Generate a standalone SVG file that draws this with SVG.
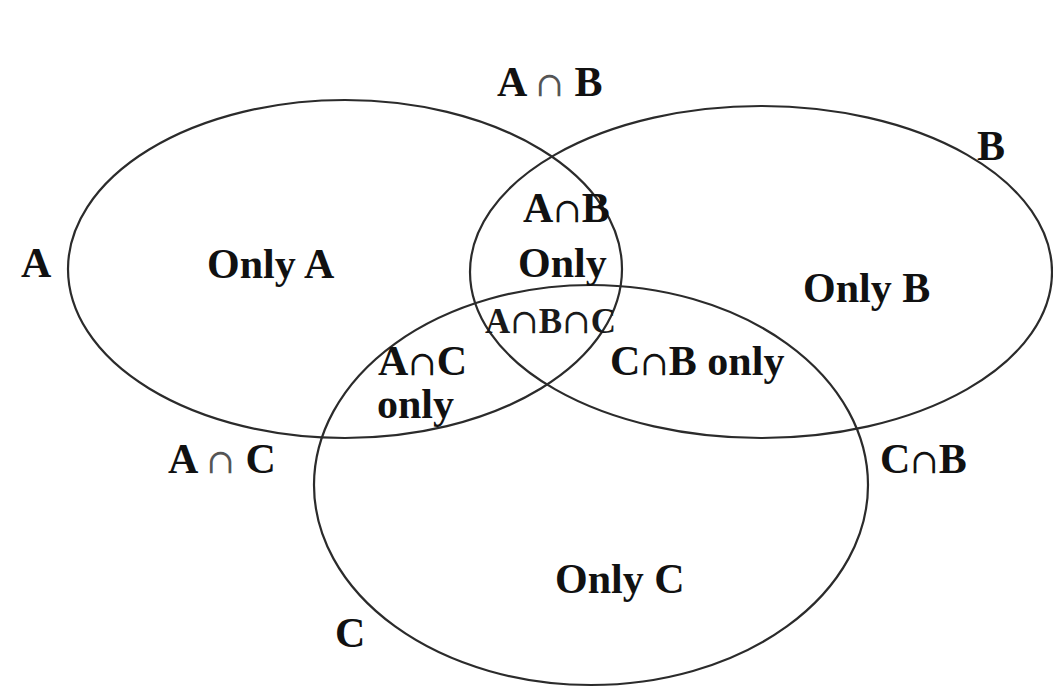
<svg xmlns="http://www.w3.org/2000/svg" width="1053" height="699" viewBox="0 0 1053 699">
<style>
.set{fill:none;stroke:#2b2b2b;stroke-width:2.2}
.t{font-family:"Liberation Serif","Times New Roman",serif;font-size:42px;font-weight:bold;fill:#111}
.i{font-family:"DejaVu Serif",serif;font-size:34px;font-weight:normal}
.cap{font-family:"DejaVu Serif",serif;font-size:34px;font-weight:normal;fill:#555}
.abc{font-family:"Liberation Serif","Times New Roman",serif;font-size:35px;font-weight:bold;fill:#1a1a1a}
</style>
<rect width="1053" height="699" fill="#fff"/>
<g id="setA"><ellipse class="set" cx="345" cy="269" rx="277" ry="169"/></g>
<g id="setB"><ellipse class="set" cx="761" cy="272" rx="291" ry="166"/></g>
<g id="setC"><ellipse class="set" cx="591" cy="485" rx="277" ry="200"/></g>
<g id="connectors"></g>
<g id="labels">
<text class="t" x="497" y="96">A <tspan class="cap">∩</tspan> B</text>
<text class="t" x="977" y="160">B</text>
<text class="t" x="21" y="277">A</text>
<text class="t" x="207" y="278">Only A</text>
<text class="t" x="523" y="222">A<tspan class="i">∩</tspan>B</text>
<text class="t" x="518" y="277">Only</text>
<text class="t" x="803" y="302">Only B</text>
<text class="abc" x="485" y="333">A<tspan class="i" font-size="29">∩</tspan>B<tspan class="i" font-size="29">∩</tspan>C</text>
<text class="t" x="378" y="375">A<tspan class="i">∩</tspan>C</text>
<text class="t" x="377" y="418">only</text>
<text class="t" x="610" y="375">C<tspan class="i">∩</tspan>B only</text>
<text class="t" x="168" y="473">A <tspan class="cap">∩</tspan> C</text>
<text class="t" x="880" y="473">C<tspan class="i">∩</tspan>B</text>
<text class="t" x="555" y="593">Only C</text>
<text class="t" x="335" y="647">C</text>
</g>
</svg>
